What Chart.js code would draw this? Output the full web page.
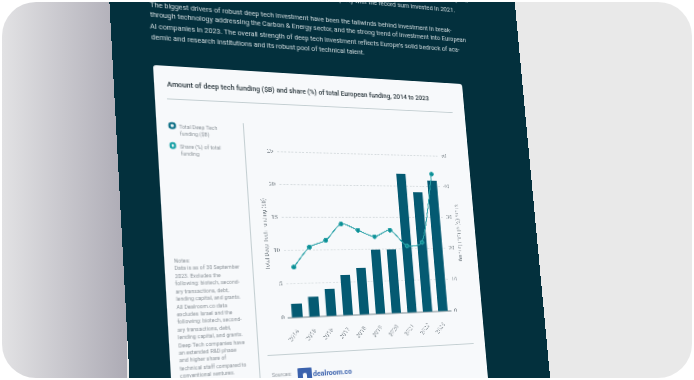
<!DOCTYPE html>
<html><head><meta charset="utf-8">
<style>
html,body{margin:0;padding:0;width:694px;height:380px;background:#fff;overflow:hidden;font-family:Roboto,"Noto Sans",sans-serif}
#frame{position:absolute;left:2px;top:2px;width:690px;height:376px;border-radius:34px;overflow:hidden;
background:linear-gradient(90deg,#e2e2e4 0,#adabb5 125px,#e9e9e9 125px)}
#blur{position:absolute;left:-2px;top:-2px;width:694px;height:380px;filter:blur(.6px)}
#sheet{position:absolute;left:0;top:0;width:320px;height:290px;transform-origin:0 0}
#panel{position:absolute;left:-36.5px;top:-300px;width:430.5px;height:900px;background:#03303d}
#card{position:absolute;left:0;top:0;width:320px;height:600px;background:#f7f9fb;border-radius:3px}
.t{position:absolute;white-space:nowrap;line-height:1}
.body{font-size:6.85px;color:#d3dde0}
.title{font-size:6.8px;font-weight:500;color:#27343a}
.side{font-size:5px;color:#8f969c}
.rule{position:absolute;background:#c4cfd2}
.dot{position:absolute;width:2.4px;height:2.4px;border-radius:50%;background:#e8f2f4;border-style:solid;border-width:2px;transform:translate(-50%,-50%)}
#logo{position:absolute;width:14px;height:14px;background:#3b62ad;border-radius:1px}
#logo i{position:absolute;left:5px;top:5px;width:4px;height:9px;background:#f7f9fb;border-radius:2px 2px 0 0}
canvas{position:absolute}
</style></head>
<body>
<div id="frame"><div id="blur"><div id="sheet"><div id="panel"></div><div id="card"></div><canvas id="c"></canvas></div></div></div>
<script src="https://cdn.jsdelivr.net/npm/chart.js@4/dist/chart.umd.min.js"></script>
<script>
const categories=["2014","2015","2016","2017","2018","2019","2020","2021","2022","2023"];
const fundingValues=[2,3,4.1,6.2,7.2,10,10,22,19,21];
const shareValues=[15,21,23,28,26,24,26,21,22,44];
const fundingTicks=[0,5,10,15,20,25];
const shareTicks=[0,10,20,30,40,50];
const titleText="Amount of deep tech funding ($B) and share (%) of total European funding, 2014 to 2023";
const noteLines=["Notes:","Data is as of 30 September","2023. Excludes the","following: biotech, second-","ary transactions, debt,","lending capital, and grants.","All Dealroom.co data","excludes Israel and the","following: biotech, second-","ary transactions, debt,","lending capital, and grants.","Deep Tech companies have","an extended R&D phase","and higher share of","technical staff compared to","conventional ventures."];

function solve(A,b){const n=b.length;const M=A.map((r,i)=>[...r,b[i]]);
 for(let i=0;i<n;i++){let p=i;for(let k=i+1;k<n;k++)if(Math.abs(M[k][i])>Math.abs(M[p][i]))p=k;[M[i],M[p]]=[M[p],M[i]];
  for(let k=0;k<n;k++){if(k===i)continue;const f=M[k][i]/M[i][i];for(let j=i;j<=n;j++)M[k][j]-=f*M[i][j];}}
 return M.map((r,i)=>r[n]/r[i]);}
const src=[[0,0],[320,0],[320,290],[0,290]],dst=[[153,65],[462,84],[484.8,342.4],[170,360.7]];
const A=[],B=[];src.forEach((s,i)=>{const[x,y]=s,[X,Y]=dst[i];A.push([x,y,1,0,0,0,-x*X,-y*X]);B.push(X);A.push([0,0,0,x,y,1,-x*Y,-y*Y]);B.push(Y);});
const h=solve(A,B);const[a,b,c,d,e,f,g,k]=h;
document.getElementById('sheet').style.transform=`matrix3d(${a},${d},0,${g},${b},${e},0,${k},0,0,1,0,${c},${f},0,1)`;
function inv(X,Y){const m=[e-f*k,c*k-b,b*f-c*e,f*g-d,a-c*g,c*d-a*f,d*k-e*g,b*g-a*k,a*e-b*d];
 const w=m[6]*X+m[7]*Y+m[8];return{x:(m[0]*X+m[1]*Y+m[2])/w,y:(m[3]*X+m[4]*Y+m[5])/w};}
const sheet=document.getElementById('sheet');
function text(str,cls,X,Y,right){const el=document.createElement('div');el.className='t '+cls;el.textContent=str;const p=inv(X,Y);
 el.style.left=p.x+'px';el.style.top=p.y+'px';el.style.transform=right?'translate(-100%,-50%)':'translateY(-50%)';sheet.appendChild(el);return el;}
function rule(x1,y1,x2,y2,th){const p=inv(x1,y1),q=inv(x2,y2);const el=document.createElement('div');el.className='rule';
 const vert=Math.abs(q.y-p.y)>Math.abs(q.x-p.x);
 el.style.left=p.x+'px';el.style.top=p.y+'px';el.style.width=(vert?th:q.x-p.x)+'px';el.style.height=(vert?q.y-p.y:th)+'px';sheet.appendChild(el);}
function dot(X,Y,col){const p=inv(X,Y);const el=document.createElement('div');el.className='dot';el.style.left=p.x+'px';el.style.top=p.y+'px';el.style.borderColor=col;sheet.appendChild(el);}

text("Europe. It",'body',468,1,true);
text("party with the record sum invested in 2021.",'body',455,11,true);
text("The biggest drivers of robust deep tech investment have been the tailwinds behind investment in break-",'body',150,5);
text("through technology addressing the Carbon & Energy sector, and the strong trend of investment into European",'body',150,15);
text("AI companies in 2023. The overall strength of deep tech investment reflects Europe's solid bedrock of aca-",'body',150,26);
text("demic and research institutions and its robust pool of technical talent.",'body',151,37);
text(titleText,'title',167,84.5);
rule(167,98,453,112,1.2);
dot(172,125.7,'#0d6f86');dot(173,145.7,'#1ba3a8');
text("Total Deep Tech",'side',179,127);text("funding ($B)",'side',180,134);
text("Share (%) of total",'side',180,146.7);text("funding",'side',181,154);
rule(243,123,262,385,1);
rule(268,355,474,343,1.2);
noteLines.forEach((l,i)=>text(l,'side',174+i*.4,260.7+i*7.67));
text("Sources:",'side',272,375);
const lg=inv(297,368);const logo=document.createElement('div');logo.id='logo';logo.appendChild(document.createElement('i'));logo.style.left=lg.x+'px';logo.style.top=lg.y+'px';sheet.appendChild(logo);
const dl=text("dealroom.co",'',313,374);dl.style.font='700 7px Roboto';dl.style.color='#3b62ad';

const pTL=inv(277,152),pTR=inv(439,157),pBR=inv(450,311),pBL=inv(289,318);
const u0=(pTL.x+pBL.x)/2,u1=(pTR.x+pBR.x)/2,v0=(pTL.y+pTR.y)/2,v1=(pBL.y+pBR.y)/2;
const ML=20,MR=20,MT=8,MB=26;
const cv=document.getElementById('c');
const L=Math.round(u0-ML),T=Math.round(v0-MT),W=Math.round(u1+MR)-L,H=Math.round(v1+MB)-T;
cv.style.left=L+'px';cv.style.top=T+'px';cv.style.width=W+'px';cv.style.height=H+'px';cv.width=W;cv.height=H;
const tickCol='#8d959b';const tf={size:5.6,family:'Roboto'};
new Chart(cv,{data:{labels:categories,datasets:[
 {type:'line',label:'Share (%) of total funding',data:shareValues,yAxisID:'y2',borderColor:'#2ba2a8',backgroundColor:'#0b8d93',borderWidth:1.1,pointRadius:2,pointHoverRadius:2,tension:.25,order:1},
 {type:'bar',label:'Total Deep Tech funding ($B)',data:fundingValues,yAxisID:'y1',backgroundColor:'#045a72',barPercentage:.6,categoryPercentage:1,order:2}
]},options:{responsive:false,animation:false,devicePixelRatio:3,layout:{padding:0},
 plugins:{legend:{display:false},tooltip:{enabled:false}},
 scales:{
  x:{grid:{display:false},border:{display:true,color:'#b6c0c4',width:1.3},
   ticks:{color:tickCol,font:{size:6,family:'Roboto'},minRotation:50,maxRotation:50,padding:3,autoSkip:false},
   afterFit(s){s.height=MB;}},
  y1:{position:'left',min:0,max:25,afterBuildTicks(s){s.ticks=fundingTicks.map(v=>({value:v}));},
   grid:{color:'#d5dbde',lineWidth:.8,drawTicks:false},border:{display:false,dash:[2,1.6]},
   ticks:{color:tickCol,font:tf,padding:4},
   title:{display:true,text:'Total Deep Tech Funding ($B)',color:tickCol,font:{size:5.6,family:'Roboto'},padding:{top:0,bottom:0}},
   afterFit(s){s.width=ML;}},
  y2:{position:'right',min:0,max:50,afterBuildTicks(s){s.ticks=shareTicks.map(v=>({value:v}));},
   grid:{display:false,drawTicks:false},border:{display:false},
   ticks:{color:tickCol,font:tf,padding:4},
   title:{display:true,text:'Share (%) of total funding',color:tickCol,font:{size:5.6,family:'Roboto'},padding:{top:0,bottom:0}},
   afterFit(s){s.width=MR;}}
 }}});
</script>
</body></html>
